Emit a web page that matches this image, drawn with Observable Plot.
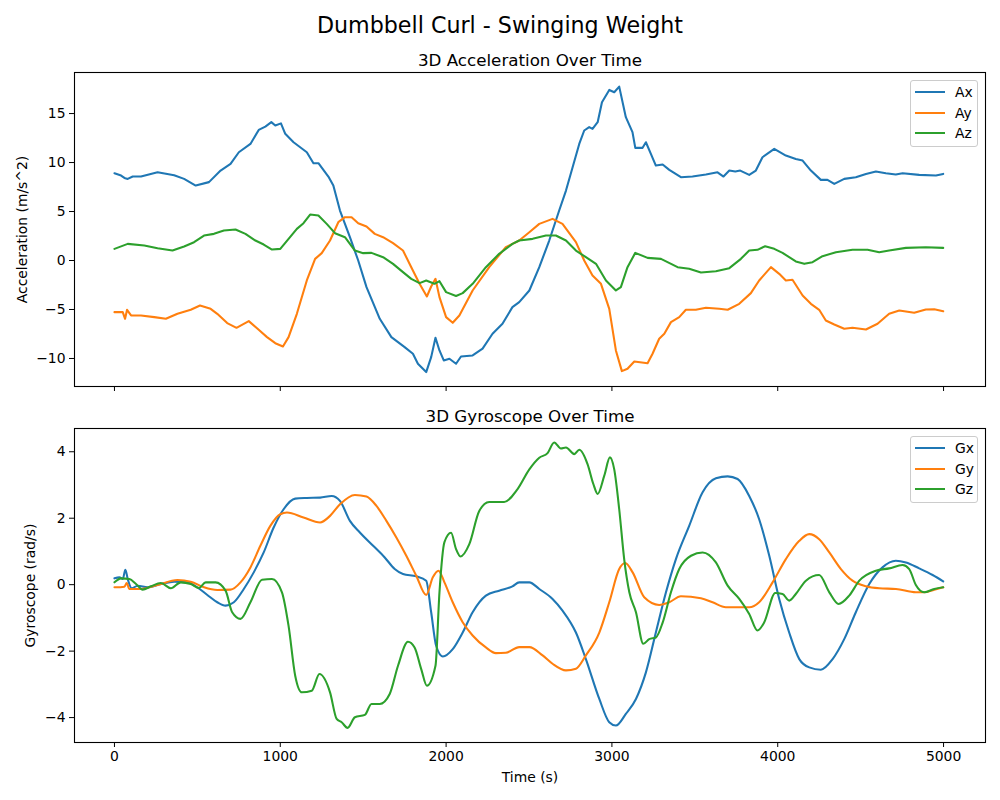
<!DOCTYPE html>
<html>
<head>
<meta charset="utf-8">
<script src="https://cdn.jsdelivr.net/npm/d3@7"></script>
<script src="https://cdn.jsdelivr.net/npm/@observablehq/plot@0.6"></script>
<style>
  html, body { margin: 0; padding: 0; background: #fff; }
  #fig { position: relative; width: 1000px; height: 800px; background: #fff; font-family: "DejaVu Sans", sans-serif; color: #000; }
  #suptitle { position: absolute; left: 0; top: 12px; width: 1000px; text-align: center; font-size: 22.2px; line-height: 26px; z-index: 5; }
  .panel { position: absolute; left: 0; }
  .legend { position: absolute; border: 1px solid #cccccc; border-radius: 3px; background: rgba(255,255,255,0.8); box-sizing: border-box; z-index: 4; }
  .legend .row { position: absolute; left: 0; height: 0; }
  .legend .swatch { position: absolute; left: 4px; width: 30px; height: 2px; top: -1px; }
  .legend .lab { position: absolute; left: 44px; top: -9px; font-size: 13.9px; line-height: 18px; white-space: nowrap; }
</style>
</head>
<body>
<div id="fig">
  <div id="suptitle">Dumbbell Curl - Swinging Weight</div>
</div>
<script>
// ---------- data (time in s) ----------
const X_TICKS = [0, 1000, 2000, 3000, 4000, 5000];
const ACC_TICKS = [-10, -5, 0, 5, 10, 15];
const GYRO_TICKS = [-4, -2, 0, 2, 4];
const ACC_NAMES = ["Ax", "Ay", "Az"];
const GYRO_NAMES = ["Gx", "Gy", "Gz"];
const COLORS = ["#1f77b4", "#ff7f0e", "#2ca02c"];

const AX = [[0,8.91],[40,8.67],[60,8.43],[80,8.33],[110,8.57],[160,8.57],[260,9.0],[360,8.71],[420,8.33],[490,7.65],[570,8.0],[640,9.18],[700,9.86],[750,11.05],[820,11.9],[870,13.33],[910,13.67],[946,14.12],[970,13.78],[1004,14.0],[1030,12.93],[1080,12.07],[1160,11.05],[1200,9.93],[1230,9.93],[1290,8.57],[1320,7.65],[1360,5.1],[1420,2.38],[1470,0],[1520,-2.72],[1600,-5.95],[1670,-7.82],[1750,-8.84],[1800,-9.52],[1830,-10.54],[1880,-11.39],[1910,-9.86],[1936,-7.89],[1960,-9.18],[1986,-10.2],[2020,-10.03],[2060,-10.54],[2090,-9.8],[2160,-9.69],[2220,-9.0],[2280,-7.48],[2340,-6.46],[2400,-4.76],[2441,-4.25],[2502,-3.06],[2562,-0.68],[2622,2.04],[2682,5.1],[2723,7.14],[2763,9.52],[2803,11.9],[2833,13.27],[2863,13.61],[2883,13.44],[2914,14.12],[2940,16.16],[2984,17.41],[3014,17.17],[3044,17.75],[3084,14.63],[3124,13.1],[3141,11.5],[3185,11.5],[3205,12.07],[3235,10.88],[3265,9.69],[3306,9.8],[3346,9.25],[3416,8.5],[3486,8.57],[3567,8.78],[3637,9.0],[3673,8.57],[3708,9.18],[3744,9.08],[3774,9.18],[3828,8.74],[3868,9.18],[3908,10.54],[3979,11.39],[4049,10.71],[4109,10.37],[4150,10.2],[4200,9.18],[4260,8.23],[4300,8.23],[4341,7.82],[4401,8.33],[4471,8.5],[4532,8.84],[4592,9.08],[4652,8.91],[4712,8.78],[4753,8.91],[4853,8.74],[4954,8.67],[4998,8.84]];

const AY = [[0,-5.27],[50,-5.27],[64,-5.95],[76,-5.03],[100,-5.61],[160,-5.61],[240,-5.78],[310,-5.95],[380,-5.44],[460,-5.03],[516,-4.59],[580,-4.93],[620,-5.44],[680,-6.39],[736,-6.87],[810,-6.19],[870,-7.07],[920,-7.82],[970,-8.44],[1016,-8.78],[1050,-7.82],[1100,-5.44],[1160,-2.04],[1210,0.17],[1250,0.75],[1300,2.04],[1350,3.91],[1390,4.42],[1430,4.42],[1470,3.81],[1520,3.47],[1570,2.72],[1620,2.38],[1680,1.77],[1740,1.02],[1790,-0.68],[1840,-2.38],[1884,-3.67],[1910,-2.65],[1936,-1.87],[1960,-3.74],[2000,-5.78],[2040,-6.36],[2080,-5.61],[2160,-3.06],[2260,-0.68],[2360,1.36],[2441,2.04],[2502,2.89],[2562,3.74],[2642,4.25],[2702,3.74],[2783,1.87],[2833,0],[2883,-1.53],[2934,-2.38],[2984,-4.93],[3024,-9.18],[3060,-11.29],[3094,-11.05],[3135,-10.3],[3215,-10.48],[3245,-9.52],[3285,-7.99],[3316,-7.48],[3356,-6.29],[3406,-5.78],[3446,-5.03],[3506,-5.03],[3567,-4.83],[3647,-4.93],[3698,-5.03],[3768,-4.42],[3838,-3.33],[3888,-2.04],[3959,-0.68],[4009,-1.36],[4049,-2.04],[4089,-1.97],[4150,-3.57],[4200,-4.42],[4250,-5.03],[4290,-6.12],[4341,-6.53],[4401,-6.97],[4451,-6.87],[4532,-7.04],[4602,-6.46],[4672,-5.44],[4733,-5.1],[4823,-5.34],[4893,-5.0],[4944,-4.97],[4998,-5.17]];

const AZ = [[0,1.19],[80,1.7],[180,1.53],[260,1.26],[350,1.02],[420,1.43],[480,1.87],[540,2.55],[600,2.72],[660,3.06],[730,3.16],[790,2.72],[850,2.04],[900,1.63],[950,1.12],[1000,1.19],[1050,2.21],[1100,3.23],[1140,3.81],[1180,4.69],[1230,4.59],[1280,3.74],[1330,2.79],[1390,2.38],[1450,1.02],[1500,0.75],[1550,0.78],[1620,0.34],[1680,-0.34],[1740,-1.19],[1790,-1.87],[1840,-2.31],[1880,-2.04],[1930,-2.38],[1960,-2.11],[2000,-3.23],[2060,-3.63],[2100,-3.33],[2160,-2.38],[2240,-0.68],[2320,0.68],[2400,1.7],[2441,2.04],[2522,2.21],[2602,2.55],[2662,2.55],[2723,2.04],[2783,1.02],[2843,0.34],[2904,-0.34],[2964,-2.04],[3024,-3.06],[3054,-2.72],[3094,-0.68],[3141,0.78],[3215,0.27],[3296,0.17],[3396,-0.68],[3466,-0.85],[3537,-1.22],[3627,-1.09],[3708,-0.78],[3778,0.17],[3828,1.02],[3878,1.09],[3924,1.46],[3979,1.19],[4029,0.78],[4109,-0.1],[4160,-0.34],[4210,-0.17],[4270,0.44],[4351,0.85],[4451,1.09],[4542,1.09],[4612,0.85],[4672,1.02],[4773,1.29],[4893,1.36],[4998,1.29]];

const GX = [[0,0.19],[30,0.22],[50,0.17],[66,0.45],[80,0.17],[104,-0.11],[140,-0.03],[200,-0.08],[280,0.02],[360,0.09],[440,0.07],[500,-0.08],[560,-0.31],[620,-0.53],[670,-0.63],[720,-0.53],[780,-0.13],[840,0.37],[900,0.97],[960,1.72],[1020,2.27],[1090,2.59],[1160,2.61],[1240,2.62],[1310,2.67],[1360,2.52],[1420,1.92],[1480,1.57],[1560,1.17],[1630,0.82],[1690,0.47],[1740,0.32],[1820,0.25],[1880,0.12],[1910,-0.83],[1940,-1.84],[1980,-2.16],[2040,-1.94],[2100,-1.44],[2160,-0.83],[2240,-0.33],[2320,-0.18],[2400,-0.05],[2441,0.07],[2502,0.07],[2562,-0.13],[2642,-0.43],[2702,-0.78],[2783,-1.44],[2843,-2.24],[2924,-3.44],[2984,-4.14],[3024,-4.24],[3084,-3.89],[3145,-3.44],[3205,-2.64],[3265,-1.44],[3326,-0.23],[3386,0.77],[3466,1.77],[3547,2.78],[3627,3.2],[3698,3.26],[3758,3.18],[3828,2.67],[3888,1.97],[3949,0.87],[4009,-0.43],[4069,-1.44],[4130,-2.24],[4190,-2.49],[4260,-2.56],[4331,-2.24],[4401,-1.64],[4471,-0.83],[4552,0.02],[4632,0.52],[4712,0.72],[4773,0.67],[4853,0.49],[4934,0.29],[4998,0.1]];

const GY = [[0,-0.08],[60,-0.06],[74,0.05],[90,-0.13],[160,-0.13],[260,-0.01],[380,0.14],[460,0.09],[540,-0.08],[620,-0.16],[700,-0.15],[760,0.07],[820,0.52],[880,1.17],[940,1.77],[1000,2.12],[1040,2.17],[1140,2.02],[1240,1.87],[1300,2.07],[1360,2.42],[1450,2.7],[1520,2.65],[1580,2.37],[1640,1.92],[1700,1.42],[1760,0.87],[1820,0.27],[1880,-0.31],[1920,0.22],[1954,0.42],[1990,0.07],[2040,-0.53],[2100,-1.13],[2160,-1.53],[2240,-1.89],[2300,-2.06],[2360,-2.05],[2441,-1.88],[2502,-1.88],[2582,-2.13],[2642,-2.38],[2723,-2.58],[2783,-2.53],[2843,-2.13],[2924,-1.44],[2984,-0.53],[3044,0.47],[3080,0.65],[3125,0.37],[3195,-0.38],[3285,-0.61],[3346,-0.53],[3416,-0.35],[3537,-0.41],[3607,-0.53],[3687,-0.68],[3828,-0.68],[3888,-0.53],[3969,0.07],[4049,0.77],[4130,1.32],[4190,1.52],[4250,1.37],[4311,0.97],[4381,0.47],[4451,0.12],[4532,-0.05],[4612,-0.11],[4713,-0.13],[4833,-0.23],[4883,-0.23],[4944,-0.15],[4998,-0.08]];

const GZ = [[0,0.07],[40,0.19],[90,0.17],[130,0.02],[170,-0.15],[220,-0.05],[280,0.05],[340,-0.11],[400,0.07],[460,0.02],[510,-0.1],[550,0.07],[610,0.07],[670,-0.18],[710,-0.83],[760,-1.03],[820,-0.53],[890,0.15],[950,0.17],[1010,-0.23],[1050,-1.24],[1090,-2.74],[1130,-3.24],[1190,-3.19],[1236,-2.69],[1300,-3.24],[1340,-4.04],[1370,-4.14],[1406,-4.31],[1450,-3.99],[1510,-3.92],[1550,-3.59],[1600,-3.59],[1660,-3.29],[1710,-2.44],[1770,-1.72],[1810,-1.89],[1850,-2.54],[1884,-3.04],[1936,-2.44],[1960,-0.23],[1990,1.28],[2030,1.56],[2060,1.07],[2086,0.85],[2140,1.22],[2200,2.22],[2260,2.49],[2350,2.49],[2430,2.87],[2502,3.47],[2562,3.82],[2612,3.96],[2652,4.28],[2692,4.1],[2723,4.13],[2773,3.93],[2803,4.06],[2853,3.63],[2888,3.03],[2914,2.73],[2954,3.28],[2988,3.83],[3014,3.47],[3044,2.27],[3074,0.77],[3105,-0.23],[3145,-0.83],[3189,-1.78],[3225,-1.64],[3265,-1.59],[3306,-1.14],[3356,-0.23],[3406,0.47],[3477,0.87],[3547,0.97],[3627,0.67],[3698,-0.03],[3768,-0.43],[3828,-0.88],[3878,-1.38],[3918,-1.14],[3985,-0.25],[4029,-0.28],[4069,-0.48],[4109,-0.28],[4170,0.12],[4250,0.29],[4311,-0.23],[4367,-0.58],[4431,-0.33],[4492,0.12],[4592,0.42],[4672,0.49],[4753,0.59],[4793,0.47],[4833,-0.01],[4883,-0.23],[4944,-0.13],[4998,-0.08]];

// ---------- helpers ----------
const fmtNum = d => d < 0 ? "\u2212" + Math.abs(d) : String(d);
function rows(names, arrays) {
  const out = [];
  names.forEach((n, i) => arrays[i].forEach(([t, v]) => out.push({t, v, s: n})));
  return out;
}

const fig = document.getElementById("fig");

function panel({names, arrays, yDomain, yTicks, yLabel, yLabelDx, title, top, height, mt, mb, xLabels, curve}) {
  const data = rows(names, arrays);
  const marks = [
    Plot.line(data, {x: "t", y: "v", z: "s", stroke: "s", strokeWidth: 2.08, curve, strokeLinejoin: "round"}),
    Plot.frame({stroke: "black", strokeWidth: 1.1}),
    Plot.axisY({ticks: yTicks, tickSize: 5, tickPadding: 4, tickFormat: fmtNum, label: null, fontSize: 13.9}),
    Plot.axisX({ticks: X_TICKS, tickSize: 5, tickPadding: 4, tickFormat: xLabels ? (d => String(d)) : (() => ""), label: null, fontSize: 13.9}),
    Plot.text([title], {text: d => d, frameAnchor: "top", lineAnchor: "bottom", textAnchor: "middle", dy: -7, fontSize: 16.7, fill: "black"}),
    Plot.text([yLabel], {text: d => d, frameAnchor: "left", rotate: -90, textAnchor: "middle", lineAnchor: "middle", dx: yLabelDx, fontSize: 13.9, fill: "black"})
  ];
  if (xLabels) {
    marks.push(Plot.text(["Time (s)"], {text: d => d, frameAnchor: "bottom", textAnchor: "middle", lineAnchor: "middle", dy: 35, fontSize: 13.9, fill: "black"}));
  }
  const svg = Plot.plot({
    width: 1000,
    height,
    marginLeft: 74,
    marginRight: 15,
    marginTop: mt,
    marginBottom: mb,
    style: {fontFamily: "DejaVu Sans", fontSize: "13.9px", color: "black", background: "transparent", overflow: "visible"},
    x: {domain: [-241, 5253]},
    y: {domain: yDomain},
    color: {domain: names, range: COLORS},
    marks
  });
  svg.classList.add("panel");
  svg.style.position = "absolute";
  svg.style.top = top + "px";
  svg.style.left = "0px";
  fig.appendChild(svg);

  // legend (upper right, inside axes)
  const lg = document.createElement("div");
  lg.className = "legend";
  lg.style.left = "910px";
  lg.style.top = (top + mt + 7.5) + "px";
  lg.style.width = "68px";
  lg.style.height = "67px";
  names.forEach((n, i) => {
    const r = document.createElement("div");
    r.className = "row";
    r.style.top = (11.3 + i * 20.7) + "px";
    const sw = document.createElement("div");
    sw.className = "swatch";
    sw.style.background = COLORS[i];
    const lab = document.createElement("div");
    lab.className = "lab";
    lab.textContent = n;
    r.appendChild(sw); r.appendChild(lab);
    lg.appendChild(r);
  });
  fig.appendChild(lg);
}

panel({names: ACC_NAMES, arrays: [AX, AY, AZ], yDomain: [-12.86, 19.19], yTicks: ACC_TICKS,
  yLabel: "Acceleration (m/s^2)", yLabelDx: -52, title: "3D Acceleration Over Time",
  top: 0, height: 400, mt: 72, mb: 14, xLabels: false, curve: "linear"});

panel({names: GYRO_NAMES, arrays: [GX, GY, GZ], yDomain: [-4.75, 4.70], yTicks: GYRO_TICKS,
  yLabel: "Gyroscope (rad/s)", yLabelDx: -44, title: "3D Gyroscope Over Time",
  top: 400, height: 400, mt: 28, mb: 58, xLabels: true, curve: "monotone-x"});
</script>
</body>
</html>
